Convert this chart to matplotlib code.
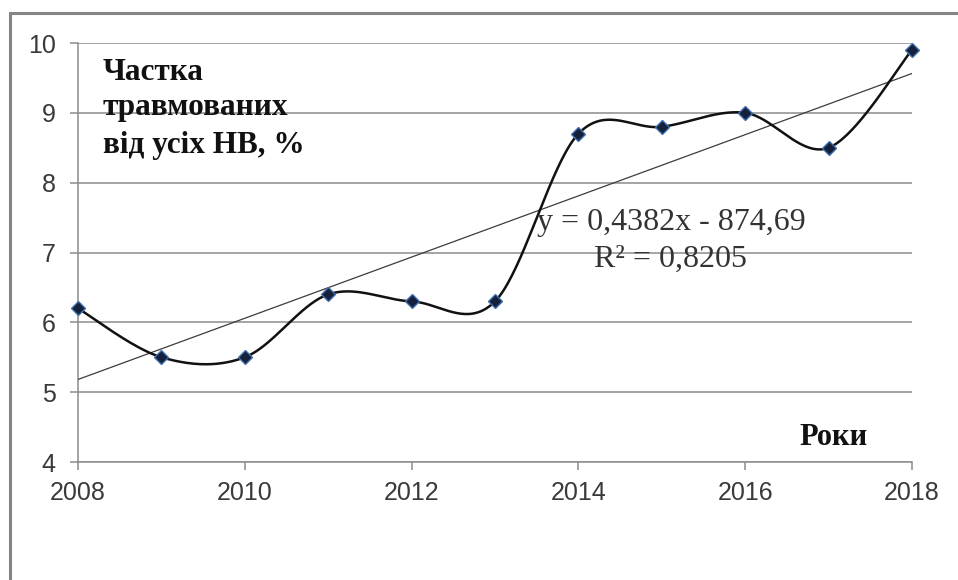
import numpy as np
import matplotlib
matplotlib.use('Agg')
from matplotlib import pyplot as plt
from matplotlib.lines import Line2D

years = [2008, 2009, 2010, 2011, 2012, 2013, 2014, 2015, 2016, 2017, 2018]
share = [6.2, 5.5, 5.5, 6.4, 6.3, 6.3, 8.7, 8.8, 9.0, 8.5, 9.9]
x_ticks = [2008, 2010, 2012, 2014, 2016, 2018]
y_ticks = [4, 5, 6, 7, 8, 9, 10]
title_lines = ['Частка', 'травмованих', 'від усіх НВ, %']
x_label = 'Роки'


def smooth_curve(xs, ys, n=40):
    # Excel-like smoothed line: Catmull-Rom as cubic Bezier segments
    xs = np.asarray(xs, float)
    ys = np.asarray(ys, float)
    px = np.concatenate([[xs[0]], xs, [xs[-1]]])
    py = np.concatenate([[ys[0]], ys, [ys[-1]]])
    t = np.linspace(0, 1, n)
    out_x, out_y = [], []
    for i in range(1, len(px) - 2):
        p0 = np.array([px[i], py[i]])
        p3 = np.array([px[i + 1], py[i + 1]])
        c1 = p0 + (p3 - np.array([px[i - 1], py[i - 1]])) / 6
        c2 = p3 - (np.array([px[i + 2], py[i + 2]]) - p0) / 6
        b = ((1 - t) ** 3)[:, None] * p0 + (3 * (1 - t) ** 2 * t)[:, None] * c1 \
            + (3 * (1 - t) * t ** 2)[:, None] * c2 + (t ** 3)[:, None] * p3
        out_x.append(b[:, 0])
        out_y.append(b[:, 1])
    return np.concatenate(out_x), np.concatenate(out_y)


slope, intercept = np.polyfit(years, share, 1)
pred = slope * np.array(years) + intercept
r2 = 1 - np.sum((np.array(share) - pred) ** 2) / np.sum((np.array(share) - np.mean(share)) ** 2)

fig = plt.figure(figsize=(9.58, 5.8), dpi=100)
ax = fig.add_axes([78 / 958, 1 - 462 / 580, (912 - 78) / 958, (462 - 43) / 580])

# outer frame (cropped on the right and bottom)
fig.add_artist(Line2D([10 / 958, 1.0], [1 - 12.5 / 580] * 2, transform=fig.transFigure, color='#858585', lw=2.2))
fig.add_artist(Line2D([10 / 958] * 2, [0.0, 1 - 12.5 / 580], transform=fig.transFigure, color='#858585', lw=2.2))

ax.set_xlim(2008, 2018)
ax.set_ylim(4, 10)
ax.set_xticks(x_ticks)
ax.set_yticks(y_ticks)
ax.yaxis.grid(True, color='#8c8c8c', lw=1.1)
ax.set_axisbelow(True)
for side in ['top', 'right']:
    ax.spines[side].set_visible(False)
for side in ['left', 'bottom']:
    ax.spines[side].set_color('#8c8c8c')
    ax.spines[side].set_linewidth(1.1)
ax.tick_params(axis='both', direction='out', length=6, width=1.1, color='#8c8c8c',
               labelsize=18, labelcolor='#3a3a3a')
ax.tick_params(axis='y', pad=10)
ax.tick_params(axis='x', pad=8)
for lbl in ax.get_xticklabels() + ax.get_yticklabels():
    lbl.set_fontfamily('Liberation Sans')

# trend line
tx = np.array([2008, 2018])
ax.plot(tx, slope * tx + intercept, color='#3c3c3c', lw=0.9, zorder=3)

# smoothed data line with markers
sx, sy = smooth_curve(years, share)
ax.plot(sx, sy, color='#111111', lw=1.8, zorder=4, clip_on=False)
ax.plot(years, share, ls='none', marker='D', ms=7, mfc='#15213a', mec='#3f6fb0', mew=1.0,
        zorder=5, clip_on=False)

# in-plot labels
baselines = [80, 115, 153]
for line, yb in zip(title_lines, baselines):
    fig.text(103 / 958, 1 - yb / 580, line, family='Liberation Serif', weight='bold',
             fontsize=22.5, color='#111111', va='baseline', ha='left')

fig.text(834 / 958, 1 - 445 / 580, x_label, family='Liberation Serif', weight='bold',
         fontsize=22, color='#111111', va='baseline', ha='center')

eq = f'y = {slope:.4f}x - {abs(intercept):.2f}'.replace('.', ',')
fig.text(671 / 958, 1 - 230 / 580, eq, family='Liberation Serif', fontsize=23,
         color='#333333', va='baseline', ha='center')
fig.text(671 / 958, 1 - 267 / 580, f'R² = {r2:.4f}'.replace('.', ','), family='Liberation Serif',
         fontsize=23, color='#333333', va='baseline', ha='center')

fig.savefig('out.png', dpi=100, facecolor='white')
